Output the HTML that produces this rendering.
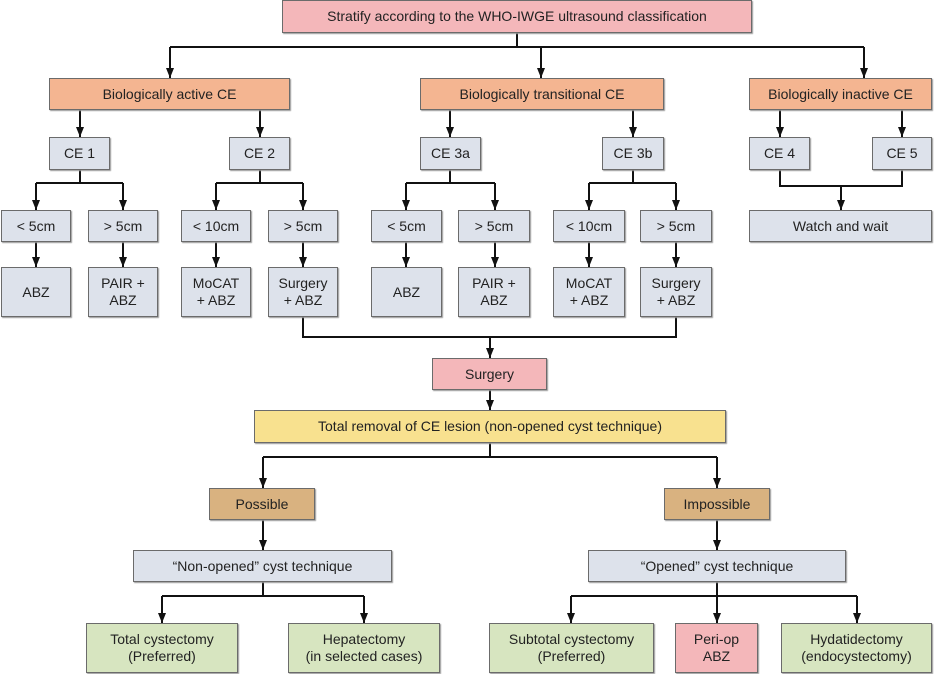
<!DOCTYPE html>
<html><head><meta charset="utf-8"><style>
body{margin:0;background:#fff;width:934px;height:674px;overflow:hidden;position:relative;font-family:"Liberation Sans",sans-serif;}
.b{position:absolute;box-sizing:border-box;border:1.5px solid #6b6b6b;display:flex;align-items:center;justify-content:center;text-align:center;font-size:14px;color:#222;line-height:17px;box-shadow:1px 1px 1px #999;}
.p{background:#f4b7ba}.o{background:#f4b591}.g{background:#dde2eb}.y{background:#f8e18f}.t{background:#d9b280}.gr{background:#d7e5c0}
svg{position:absolute;left:0;top:0}
</style></head><body>
<svg width="934" height="674">
<defs><marker id="a" markerWidth="10" markerHeight="8" refX="10" refY="4" orient="auto" markerUnits="userSpaceOnUse"><path d="M0,0 L10,4 L0,8 z" fill="#111"/></marker></defs>
<g stroke="#111" stroke-width="2" fill="none">
<path d="M517 33V47M170 47H864M80 170V183M36 183H123M260 170V183M216 183H303M450 170V183M406 183H495M633 170V183M589 183H676M780 170V186H902V170M303 317V337H676V317M490 443V457M263 457H717M263 582V596M162 596H364M717 582V596M571 596H857"/>
</g>
<g stroke="#111" stroke-width="2" fill="none" marker-end="url(#a)">
<path d="M170 47V78"/><path d="M541 47V78"/><path d="M864 47V78"/>
<path d="M80 110V137"/><path d="M260 110V137"/><path d="M450 110V137"/><path d="M633 110V137"/><path d="M780 110V137"/><path d="M902 110V137"/>
<path d="M36 183V210"/><path d="M123 183V210"/><path d="M216 183V210"/><path d="M303 183V210"/><path d="M406 183V210"/><path d="M495 183V210"/><path d="M589 183V210"/><path d="M676 183V210"/>
<path d="M841 186V210"/>
<path d="M36 242V267"/><path d="M123 242V267"/><path d="M216 242V267"/><path d="M303 242V267"/><path d="M406 242V267"/><path d="M495 242V267"/><path d="M589 242V267"/><path d="M676 242V267"/>
<path d="M490 337V358"/><path d="M490 390V410"/>
<path d="M263 457V488"/><path d="M717 457V488"/><path d="M263 520V550"/><path d="M717 520V550"/>
<path d="M162 596V623"/><path d="M364 596V623"/><path d="M571 596V623"/><path d="M717 596V623"/><path d="M857 596V623"/>
</g></svg>
<div class="b p" style="left:282px;top:0;width:470px;height:33px">Stratify according to the WHO-IWGE ultrasound classification</div>
<div class="b o" style="left:49px;top:78px;width:241px;height:32px">Biologically active CE</div>
<div class="b o" style="left:420px;top:78px;width:244px;height:32px">Biologically transitional CE</div>
<div class="b o" style="left:749px;top:78px;width:183px;height:32px">Biologically inactive CE</div>
<div class="b g" style="left:49px;top:137px;width:61px;height:33px">CE 1</div>
<div class="b g" style="left:229px;top:137px;width:61px;height:33px">CE 2</div>
<div class="b g" style="left:420px;top:137px;width:61px;height:33px">CE 3a</div>
<div class="b g" style="left:602px;top:137px;width:62px;height:33px">CE 3b</div>
<div class="b g" style="left:749px;top:137px;width:61px;height:33px">CE 4</div>
<div class="b g" style="left:872px;top:137px;width:60px;height:33px">CE 5</div>
<div class="b g" style="left:1px;top:210px;width:70px;height:32px">&lt; 5cm</div>
<div class="b g" style="left:88px;top:210px;width:70px;height:32px">&gt; 5cm</div>
<div class="b g" style="left:181px;top:210px;width:70px;height:32px">&lt; 10cm</div>
<div class="b g" style="left:268px;top:210px;width:70px;height:32px">&gt; 5cm</div>
<div class="b g" style="left:371px;top:210px;width:71px;height:32px">&lt; 5cm</div>
<div class="b g" style="left:458px;top:210px;width:72px;height:32px">&gt; 5cm</div>
<div class="b g" style="left:553px;top:210px;width:72px;height:32px">&lt; 10cm</div>
<div class="b g" style="left:640px;top:210px;width:72px;height:32px">&gt; 5cm</div>
<div class="b g" style="left:749px;top:210px;width:183px;height:32px">Watch and wait</div>
<div class="b g" style="left:1px;top:267px;width:70px;height:50px">ABZ</div>
<div class="b g" style="left:88px;top:267px;width:70px;height:50px">PAIR +<br>ABZ</div>
<div class="b g" style="left:181px;top:267px;width:70px;height:50px">MoCAT<br>+ ABZ</div>
<div class="b g" style="left:268px;top:267px;width:70px;height:50px">Surgery<br>+ ABZ</div>
<div class="b g" style="left:371px;top:267px;width:71px;height:50px">ABZ</div>
<div class="b g" style="left:458px;top:267px;width:72px;height:50px">PAIR +<br>ABZ</div>
<div class="b g" style="left:553px;top:267px;width:72px;height:50px">MoCAT<br>+ ABZ</div>
<div class="b g" style="left:640px;top:267px;width:72px;height:50px">Surgery<br>+ ABZ</div>
<div class="b p" style="left:432px;top:358px;width:115px;height:32px">Surgery</div>
<div class="b y" style="left:254px;top:410px;width:472px;height:33px">Total removal of CE lesion (non-opened cyst technique)</div>
<div class="b t" style="left:209px;top:488px;width:106px;height:32px">Possible</div>
<div class="b t" style="left:664px;top:488px;width:106px;height:32px">Impossible</div>
<div class="b g" style="left:133px;top:550px;width:259px;height:32px">“Non-opened” cyst technique</div>
<div class="b g" style="left:588px;top:550px;width:258px;height:32px">“Opened” cyst technique</div>
<div class="b gr" style="left:86px;top:623px;width:152px;height:50px">Total cystectomy<br>(Preferred)</div>
<div class="b gr" style="left:288px;top:623px;width:152px;height:50px">Hepatectomy<br>(in selected cases)</div>
<div class="b gr" style="left:489px;top:623px;width:165px;height:50px">Subtotal cystectomy<br>(Preferred)</div>
<div class="b p" style="left:675px;top:623px;width:83px;height:50px">Peri-op<br>ABZ</div>
<div class="b gr" style="left:781px;top:623px;width:151px;height:50px">Hydatidectomy<br>(endocystectomy)</div>
</body></html>
